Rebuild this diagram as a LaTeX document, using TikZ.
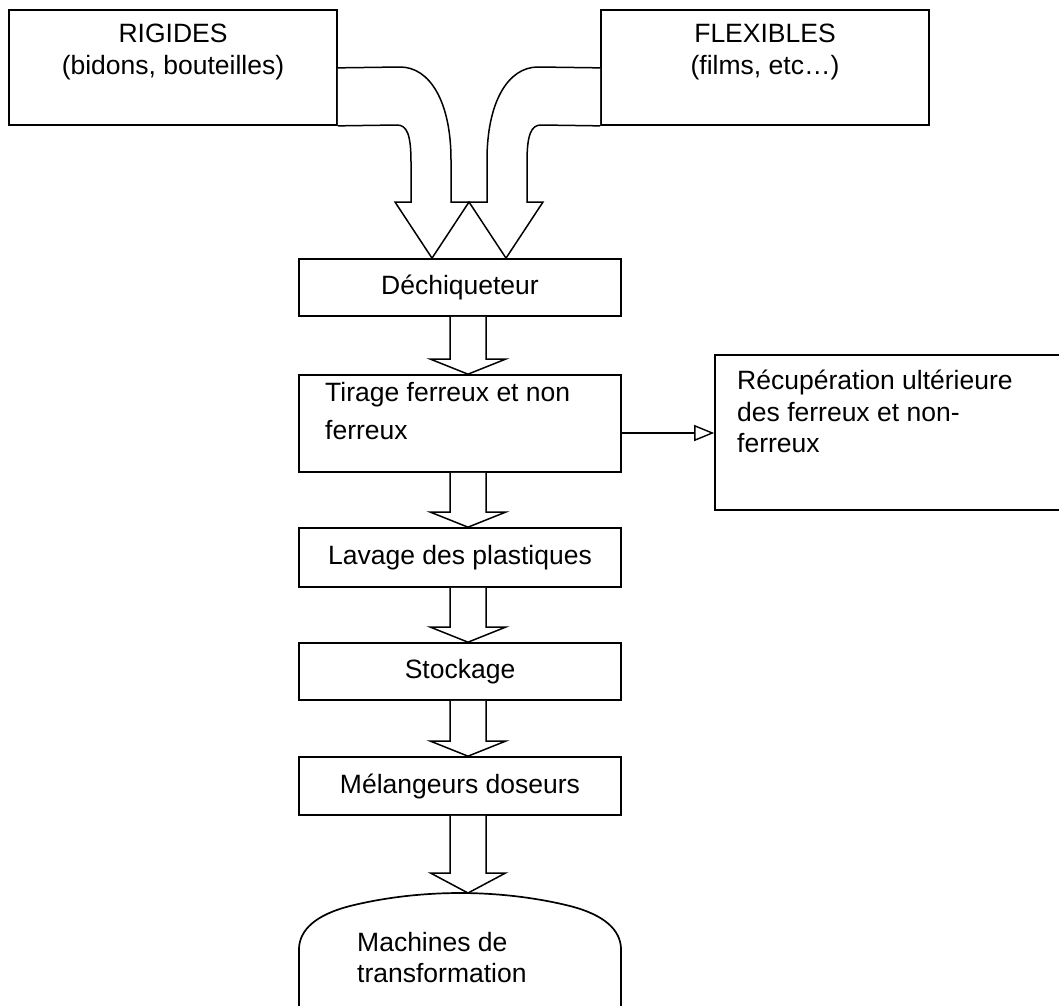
\documentclass[tikz,border=0pt]{standalone}
\usepackage{fontspec}
\setmainfont{Liberation Sans}
\usetikzlibrary{calc,arrows.meta}
\tikzset{
  lbl/.style={font=\fontsize{26.5}{31.5}\selectfont},
  box/.style={draw, line width=1.7pt, minimum width=322pt, inner sep=0pt, lbl,
              text height=19.5pt, text depth=5.5pt},
  txt/.style={inner sep=0pt, lbl},
  blockarr/.style={draw, fill=white, line width=1.5pt, line join=miter},
}
\newcommand{\blkarrow}[3]{%
  \draw[blockarr] ($(#1)+(-10,0)$) -- ($(#2)+(-10,-#3)$) -- ($(#2)+(-29.5,-#3)$)
    -- ($(#2)+(8,0)$) -- ($(#2)+(45.5,-#3)$) -- ($(#2)+(26,-#3)$) -- ($(#1)+(26,0)$);
}
\begin{document}
\begin{tikzpicture}[x=1pt,y=-1pt]
\useasboundingbox (0,0) rectangle (1059,1005);

% top boxes
\node[box, minimum width=328pt, minimum height=115pt] (rig) at (173,67.5) {};
\node[txt, anchor=north, align=center] (rigt) at (173,24) {RIGIDES\\(bidons, bouteilles)};
\node[box, minimum width=328pt, minimum height=115pt] (flex) at (765,67.5) {};
\node[txt, anchor=north, align=center] (flext) at (765,24) {FLEXIBLES\\(films, etc…)};

% process boxes
\node[box, minimum height=57pt] (dech) at (460,287.5) {Déchiqueteur};
\node[box, minimum height=97pt] (tir) at (460,423.5) {};
\node[txt, anchor=north west, align=left, font=\fontsize{26.5}{38}\selectfont] (tirt) at (325,382) {Tirage ferreux et non\\ferreux};
\node[box, minimum width=345pt, minimum height=155pt] (rec) at (887.5,432.5) {};
\node[txt, anchor=north west, align=left] (rect) at (737,370) {Récupération ultérieure\\des ferreux et non-\\ferreux};
\node[box, minimum height=59pt] (lav) at (460,557.5) {Lavage des plastiques};
\node[box, minimum height=57pt] (sto) at (460,671.5) {Stockage};
\node[box, minimum height=58pt] (mel) at (460,786) {Mélangeurs doseurs};

% machines de transformation (open-bottom dome)
\coordinate (mach) at (460,893);
\draw[line width=1.7pt]
  ($(mach)+(-161,120)$) -- ($(mach)+(-161,55)$)
  .. controls ($(mach)+(-160,37)$) and ($(mach)+(-145,22)$) .. ($(mach)+(-110,13)$)
  .. controls ($(mach)+(-70,3)$) and ($(mach)+(-30,0)$) .. (mach)
  .. controls ($(mach)+(30,0)$) and ($(mach)+(70,3)$) .. ($(mach)+(110,13)$)
  .. controls ($(mach)+(145,22)$) and ($(mach)+(160,37)$) .. ($(mach)+(161,55)$)
  -- ($(mach)+(161,120)$);
\node[txt, anchor=north west, align=left] (macht) at (357,932) {Machines de\\transformation};

% curved block arrows from the two top boxes
\draw[blockarr]
  (rig.south east) -- (397,125) .. controls (407,125) and (411,135) .. (411,162)
  -- (411,202) -- (395,202) -- ($(dech.north)+(-28,0)$) -- (469,202) -- (451,202)
  -- (451,160) .. controls (451,102) and (430,67) .. (400,67) -- ($(rig.south east)+(0,-58)$);
\draw[blockarr]
  (flex.south west) -- (541,125) .. controls (531,125) and (527,135) .. (527,162)
  -- (527,202) -- (543,202) -- ($(dech.north)+(46,0)$) -- (469,202) -- (487,202)
  -- (487,160) .. controls (487,102) and (508,67) .. (538,67) -- ($(flex.south west)+(0,-58)$);

% straight block arrows
\blkarrow{dech.south}{tir.north}{15}
\blkarrow{tir.south}{lav.north}{15}
\blkarrow{lav.south}{sto.north}{15}
\blkarrow{sto.south}{mel.north}{15}
\blkarrow{mel.south}{mach}{20}

% side arrow
\coordinate (tirout) at ($(tir.east)+(0,9.5)$);
\draw[line width=1.4pt, -{Triangle[open, length=20pt, width=16pt, line width=1.4pt]}]
  (tirout) -- (tirout -| rec.west);
\end{tikzpicture}
\end{document}
